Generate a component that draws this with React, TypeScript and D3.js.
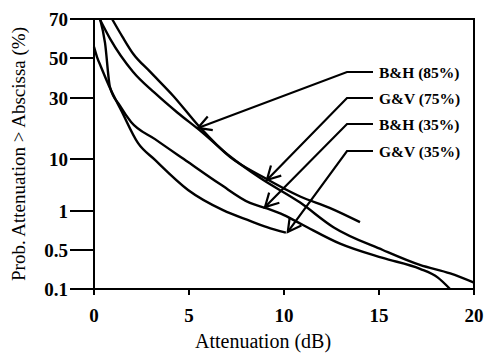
import React from "react";
import * as d3 from "d3";

// tick values of the probability axis (irregular, as printed)
const yTickValues = [70, 50, 30, 10, 1, 0.5, 0.1];
const xTickValues = [0, 5, 10, 15, 20];

// [attenuation dB, probability %]
const bh85 = [[0.3, 70], [0.85, 59], [2.05, 42], [3.2, 32], [4.4, 23], [5.6, 16.6], [7.15, 10.5], [8.75, 4.3], [10.85, 1.45], [12.6, 0.75], [15.2, 0.5], [17.15, 0.27], [18.75, 0.19], [20, 0.13]];
const gv75 = [[0.95, 70], [1.5, 60], [2.05, 52], [2.95, 42], [4.15, 31], [5.6, 17.5], [7.15, 10.4], [8.9, 4.5], [10.85, 1.9], [12.4, 1.15], [14, 0.82]];
const bh35 = [[0.32, 70], [0.58, 57], [0.84, 34.5], [1.37, 26], [1.95, 19.5], [3.21, 14.3], [4.95, 8.75], [6.63, 3.3], [8.21, 1.43], [9.1, 1.12], [10, 0.93], [11, 0.78], [12.95, 0.56], [15.2, 0.36], [17.16, 0.23], [18.1, 0.16], [18.74, 0.1]];
const gv35 = [[0, 55], [0.16, 50.4], [0.37, 44.6], [0.89, 33.2], [1.42, 24.2], [2.32, 13.3], [3.21, 9.6], [4.95, 2.54], [6.79, 1.04], [8.21, 0.84], [9.1, 0.75], [10.1, 0.68]];

const seriesNames = ["B&H (85%)", "G&V (75%)", "B&H (35%)", "G&V (35%)"];
const seriesData = [bh85, gv75, bh35, gv35];
// where each label's arrow points, in data units
const arrowTips = [[5.47, 17.5], [9.1, 3.95], [9.0, 1.19], [10.2, 0.69]];

export default function App() {
  const W = 488;
  const H = 356;
  const left = 94, right = 474, top = 19, bottom = 289;
  const font = "'Liberation Serif', 'Times New Roman', serif";

  const x = d3.scaleLinear().domain([0, 20]).range([left, right]);
  // piecewise log scale reproducing the printed axis spacing
  const y = d3.scaleLog().domain(yTickValues).range([top, 58, 98, 159, 211, 250, bottom]);

  const line = d3
    .line<number[]>()
    .x((d) => x(d[0]))
    .y((d) => y(d[1]))
    .curve(d3.curveMonotoneX);

  const labelX = 379;
  const labelYs = [72, 98, 124, 151];

  return (
    <div style={{ position: "absolute", left: 0, top: 0 }}>
      <svg width={W} height={H} style={{ display: "block", background: "#fff" }}>
        {/* frame */}
        <rect x={left} y={top} width={right - left} height={bottom - top} fill="none" stroke="#000" strokeWidth={2} />

        {/* y ticks */}
        {yTickValues.map((v) => (
          <g key={v}>
            <line x1={70} x2={left} y1={y(v)} y2={y(v)} stroke="#000" strokeWidth={2} />
            <text x={68} y={y(v) + 6.5} textAnchor="end" fontFamily={font} fontWeight="bold" fontSize={19}>
              {v}
            </text>
          </g>
        ))}

        {/* x ticks */}
        {xTickValues.map((v) => (
          <g key={v}>
            <line x1={x(v)} x2={x(v)} y1={bottom} y2={bottom + 6} stroke="#000" strokeWidth={2} />
            <text x={x(v)} y={322} textAnchor="middle" fontFamily={font} fontWeight="bold" fontSize={19}>
              {v}
            </text>
          </g>
        ))}

        {/* curves */}
        {seriesData.map((s, i) => (
          <path key={i} d={line(s) || undefined} fill="none" stroke="#000" strokeWidth={2.4} strokeLinejoin="round" />
        ))}

        {/* labels with arrows */}
        {seriesNames.map((name, i) => {
          const ly = labelYs[i];
          const sx = 347;
          const tx = x(arrowTips[i][0]);
          const ty = y(arrowTips[i][1]);
          const ang = Math.atan2(ly - ty, sx - tx);
          const len = 15;
          const a1 = ang + 0.5;
          const a2 = ang - 0.5;
          return (
            <g key={name} stroke="#000" strokeWidth={2.2} fill="none">
              <polyline points={`${labelX - 6},${ly} ${sx},${ly} ${tx},${ty}`} />
              <polyline
                points={`${tx + len * Math.cos(a1)},${ty + len * Math.sin(a1)} ${tx},${ty} ${tx + len * Math.cos(a2)},${ty + len * Math.sin(a2)}`}
              />
              <text x={labelX} y={ly + 5.5} stroke="none" fill="#000" fontFamily={font} fontWeight="bold" fontSize={15.5}>
                {name}
              </text>
            </g>
          );
        })}

        {/* axis titles */}
        <text x={263} y={348} textAnchor="middle" fontFamily={font} fontSize={20}>
          Attenuation (dB)
        </text>
        <text
          transform={`translate(25, ${(top + bottom) / 2}) rotate(-90)`}
          textAnchor="middle"
          fontFamily={font}
          fontSize={19}
        >
          Prob. Attenuation &gt; Abscissa (%)
        </text>
      </svg>
    </div>
  );
}
